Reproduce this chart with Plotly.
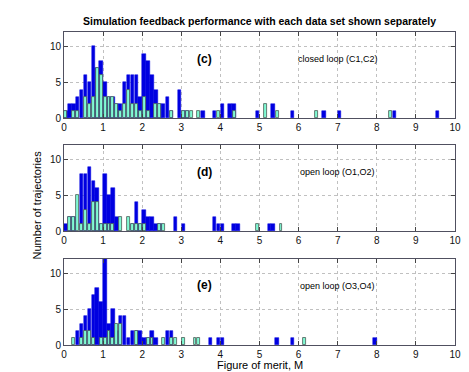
import plotly.graph_objects as go

# bin centres (bin width 0.1) and counts
c_blue_x = [0.05, 0.15, 0.25, 0.35, 0.45, 0.55, 0.65, 0.75, 0.85, 0.95, 1.05, 1.15, 1.25, 1.35, 1.45,
            1.55, 1.65, 1.75, 1.85, 1.95, 2.05, 2.15, 2.25, 2.35, 2.45, 2.55, 2.65, 2.75, 2.95, 3.05,
            3.15, 3.55, 3.85, 4.05, 4.25, 4.35, 4.95, 5.35, 5.85, 6.65, 7.05, 8.45, 9.55]
c_blue_n = [1, 2, 2, 3, 4, 6, 5, 10, 7, 8, 5, 3, 3, 2, 2,
            5, 6, 6, 6, 3, 9, 8, 6, 4, 2, 2, 3, 1, 4, 1,
            1, 1, 1, 2, 2, 2, 1, 2, 1, 1, 1, 1, 1]
c_cyan_x = [0.05, 0.25, 0.35, 0.55, 0.65, 0.75, 0.85, 0.95, 1.05, 1.15, 1.25, 1.35, 1.45, 1.55,
            1.65, 1.75, 1.85, 1.95, 2.05, 2.15, 2.35, 2.45, 2.75, 3.05, 3.15, 3.25, 3.45, 3.95,
            4.35, 5.15, 5.45, 6.45, 8.35]
c_cyan_n = [1, 1, 1, 3, 2, 3, 7, 6, 3, 3, 3, 2, 1, 2,
            4, 2, 2, 1, 3, 1, 2, 2, 1, 1, 1, 1, 1, 1,
            1, 2, 1, 1, 1]

d_blue_x = [0.05, 0.15, 0.25, 0.45, 0.55, 0.65, 0.75, 0.85, 0.95, 1.05, 1.15, 1.25, 1.35, 1.75,
            1.85, 1.95, 2.05, 2.15, 2.25, 2.35, 2.45, 2.85, 3.05, 3.85, 3.95, 4.05, 4.35, 4.45,
            5.25, 5.35]
d_blue_n = [1, 2, 2, 8, 8, 9, 7, 6, 1, 8, 5, 6, 2, 1,
            4, 1, 3, 2, 2, 1, 1, 2, 1, 2, 1, 1, 1, 1,
            1, 1]
d_cyan_x = [0.15, 0.25, 0.35, 0.45, 0.55, 0.65, 0.75, 0.85, 0.95, 1.05, 1.15, 1.25, 1.45, 1.65,
            1.75, 1.85, 1.95, 2.05, 2.45, 2.55, 4.95, 5.55]
d_cyan_n = [2, 2, 5, 1, 3, 1, 4, 4, 1, 1, 1, 1, 2, 2,
            1, 1, 1, 1, 1, 1, 1, 1]

e_blue_x = [0.35, 0.45, 0.55, 0.65, 0.75, 0.85, 0.95, 1.05, 1.15, 1.25, 1.35, 1.45, 1.55, 1.65,
            1.75, 1.85, 1.95, 2.05, 2.15, 2.25, 2.35, 2.65, 2.75, 3.75, 3.95, 4.05, 5.45, 5.85,
            7.95]
e_blue_n = [2, 3, 4, 5, 7, 8, 6, 12, 3, 5, 2, 4, 4, 1,
            2, 2, 2, 1, 1, 2, 1, 2, 2, 1, 1, 1, 1, 1,
            1]
e_cyan_x = [0.25, 0.45, 0.55, 0.65, 0.75, 0.95, 1.05, 1.15, 1.25, 1.35, 1.45, 1.85, 2.15, 2.25,
            2.55, 2.75, 2.85, 3.05, 3.35, 3.45, 6.15]
e_cyan_n = [1, 1, 2, 2, 1, 1, 1, 2, 1, 3, 3, 2, 1, 1,
            1, 1, 1, 1, 1, 1, 1]

panels = [
    ('(c)', 'closed loop (C1,C2)', c_blue_x, c_blue_n, c_cyan_x, c_cyan_n),
    ('(d)', 'open loop (O1,O2)', d_blue_x, d_blue_n, d_cyan_x, d_cyan_n),
    ('(e)', 'open loop (O3,O4)', e_blue_x, e_blue_n, e_cyan_x, e_cyan_n),
]
x_ticks = list(range(0, 11))
y_ticks = [0, 5, 10]

BLUE = '#0000e0'
CYAN = '#80fad4'
FONT = 'Liberation Sans, Arial, sans-serif'

# panel domains in paper coords (top to bottom)
domains = [[0.724, 1.0], [0.364, 0.639], [0.0, 0.275]]

fig = go.Figure()
for i, (tag, label, bx, bn, cx, cn) in enumerate(panels):
    n = i + 1
    xa = 'x' if n == 1 else f'x{n}'
    ya = 'y' if n == 1 else f'y{n}'
    fig.add_trace(go.Bar(x=bx, y=bn, width=0.09, xaxis=xa, yaxis=ya,
                         marker=dict(color=BLUE, line=dict(color=BLUE, width=0.5)),
                         showlegend=False))
    fig.add_trace(go.Bar(x=cx, y=cn, width=0.075, xaxis=xa, yaxis=ya,
                         marker=dict(color=CYAN, line=dict(color='#4a5a55', width=0.8)),
                         showlegend=False))
    ax = dict(range=[0, 10], tickvals=x_ticks, ticks='inside', ticklen=4,
              showline=True, mirror='ticks', linecolor='#505060', linewidth=1,
              showgrid=True, gridcolor='#c0c0c0', griddash='dot', gridwidth=1,
              zeroline=False, anchor=ya, tickfont=dict(size=10, color='#111'))
    ay = dict(range=[0, 12], tickvals=y_ticks, ticks='inside', ticklen=4,
              showline=True, mirror='ticks', linecolor='#505060', linewidth=1,
              showgrid=True, gridcolor='#c0c0c0', griddash='dot', gridwidth=1,
              zeroline=False, anchor=xa, domain=domains[i], tickfont=dict(size=10, color='#111'))
    key = '' if n == 1 else str(n)
    fig.update_layout({f'xaxis{key}': ax, f'yaxis{key}': ay})
    fig.add_annotation(x=3.6, y=8.3, xref=xa, yref=ya, text=f'<b>{tag}</b>',
                       showarrow=False, font=dict(size=12, color='#000'))
    fig.add_annotation(x=7.0, y=8.2, xref=xa, yref=ya, text=label,
                       showarrow=False, font=dict(size=9, color='#000'))

# plot area in page pixels: x 64..461, y 32..345 (page has an 8px body margin)
pw, ph = 397, 313

fig.add_annotation(x=0.5, y=1.0, xref='paper', yref='paper', yanchor='middle', yshift=11,
                   text='<b>Simulation feedback performance with each data set shown separately</b>',
                   showarrow=False, font=dict(size=10.5, color='#000'))
fig.add_annotation(x=0.5, y=0, xref='paper', yref='paper', yanchor='middle', yshift=-20,
                   text='Figure of merit, M', showarrow=False, font=dict(size=11, color='#000'))
fig.add_annotation(x=(28 - 64) / pw, y=(345 - 205) / ph, xref='paper', yref='paper',
                   text='Number of trajectories', showarrow=False, textangle=-90,
                   font=dict(size=11, color='#000'))

fig.update_layout(
    width=461, height=364,
    margin=dict(l=56, r=8, t=24, b=27),
    barmode='overlay', bargap=0,
    plot_bgcolor='white', paper_bgcolor='white',
    font=dict(family=FONT, size=10, color='#000'),
)

fig.write_html('out.html')
